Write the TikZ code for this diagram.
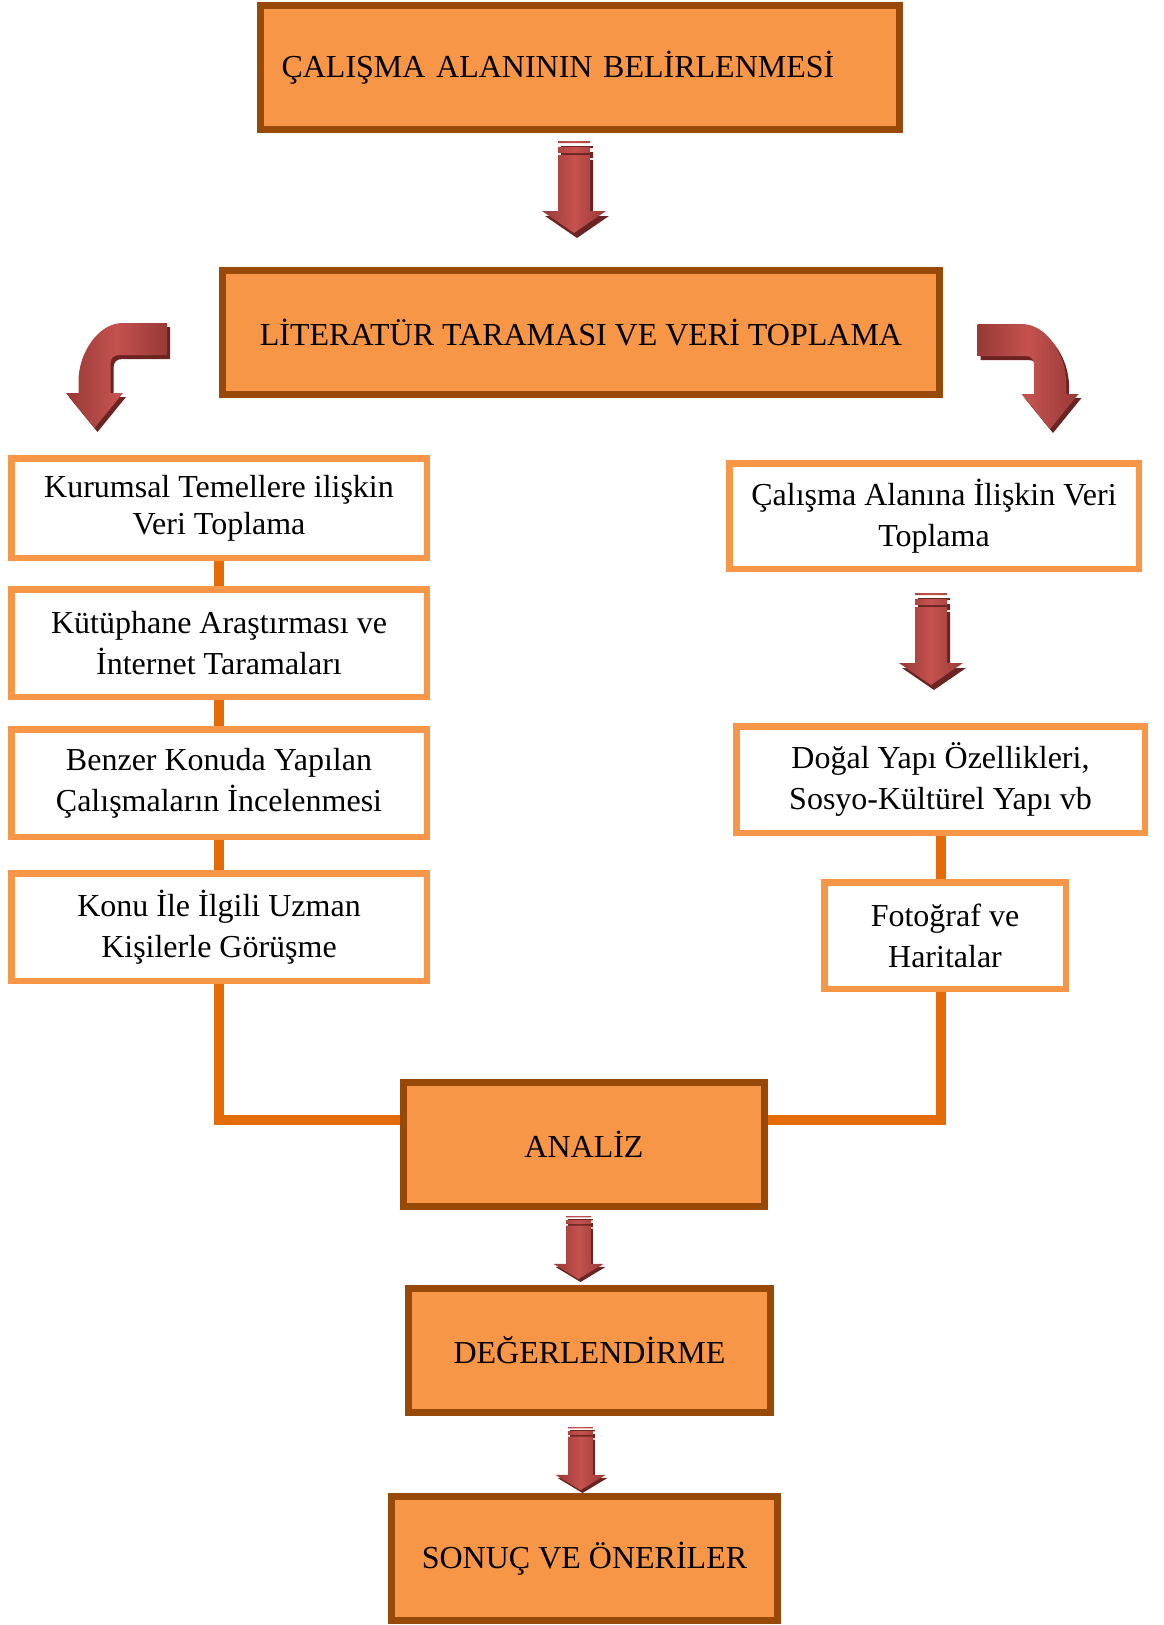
\documentclass[tikz,border=0pt]{standalone}
\usepackage{fontspec}
\setmainfont{Liberation Serif}
\begin{document}
\begin{tikzpicture}[
  mainbox/.style={draw=\flowMainBorder, fill=\flowMainFill, line width=\flowMainLineWidth, minimum height=124pt, inner sep=0pt, font=\flowFont},
  subbox/.style={draw=\flowSubBorder, fill=white, line width=\flowSubLineWidth, align=center, inner sep=0pt, font=\flowFont},
  link/.style={draw=\flowLinkColor, line width=\flowLinkWidth},
  arrowbody/.style={left color=\flowArrowDark, right color=\flowArrowDark, middle color=\flowArrowLight},
  arrowshadow/.style={fill=\flowArrowShadow}
]
% Flow chart colours and widths
\definecolor{flowmainfill}{HTML}{F79646}
\definecolor{flowmainborder}{HTML}{984807}
\definecolor{flowlink}{HTML}{E36C09}
\definecolor{flowarrowlight}{HTML}{C4524F}
\definecolor{flowarrowdark}{HTML}{983936}
\definecolor{flowarrowshadow}{HTML}{6B2422}
\providecommand{\flowMainFill}{flowmainfill}
\providecommand{\flowMainBorder}{flowmainborder}
\providecommand{\flowSubBorder}{flowmainfill}
\providecommand{\flowLinkColor}{flowlink}
\providecommand{\flowArrowLight}{flowarrowlight}
\providecommand{\flowArrowDark}{flowarrowdark}
\providecommand{\flowArrowShadow}{flowarrowshadow}
\providecommand{\flowMainLineWidth}{7pt}
\providecommand{\flowSubLineWidth}{6.5pt}
\providecommand{\flowLinkWidth}{10pt}
\providecommand{\flowFont}{\fontsize{32}{41}\selectfont}
% Straight arrow, top centre at the origin
\providecommand{\flowDownShape}[1]{\path[#1] (-16,0) rectangle (16,2) (-16,6) rectangle (16,12)
  (-16,14) -- (16,14) -- (16,70) -- (32,70) -- (0,92) -- (-32,70) -- (-16,70) -- cycle;}
% Bent arrow, shaft centre / band top at the origin
\providecommand{\flowBendShape}[1]{\path[#1] (72.5,0) -- (28,0) .. controls (4,0) and (-16,30) .. (-16,58)
  -- (-16,70) -- (-28.5,70) -- (0,105) -- (28.5,70) -- (16,70) -- (16,41)
  .. controls (16,35) and (19,32) .. (25,32) -- (72.5,32) -- cycle;}
\begin{scope}[x=1pt, y=-1pt, line cap=butt, line join=miter]
  \useasboundingbox (0,0) rectangle (1164,1625);
  % Main steps
  \node[mainbox, minimum width=639pt, text width=597pt, align=left] (alan) at (580,67.5) {ÇALIŞMA ALANININ BELİRLENMESİ};
  \node[mainbox, minimum width=717pt] (literatur) at (581,332.5) {LİTERATÜR TARAMASI VE VERİ TOPLAMA};
  \node[mainbox, minimum width=361pt] (analiz) at (584,1144.5) {ANALİZ};
  \node[mainbox, minimum width=362pt] (deger) at (589.5,1350.5) {DEĞERLENDİRME};
  \node[mainbox, minimum width=386pt] (sonuc) at (584.5,1558.5) {SONUÇ VE ÖNERİLER};
  % Left column
  \node[subbox, minimum width=415.5pt, minimum height=99.5pt, font=\fontsize{32}{37}\selectfont] (kurum) at (219,508) {Kurumsal Temellere ilişkin\\Veri Toplama};
  \node[subbox, minimum width=415.5pt, minimum height=107.5pt] (kutup) at (219,643) {Kütüphane Araştırması ve\\İnternet Taramaları};
  \node[subbox, minimum width=415.5pt, minimum height=107.5pt] (benzer) at (219,783) {Benzer Konuda Yapılan\\Çalışmaların İncelenmesi};
  \node[subbox, minimum width=415.5pt, minimum height=107.5pt] (uzman) at (219,927) {Konu İle İlgili Uzman\\Kişilerle Görüşme};
  % Right column
  \node[subbox, minimum width=409.5pt, minimum height=105.5pt] (alanveri) at (934,516) {Çalışma Alanına İlişkin Veri\\Toplama};
  \node[subbox, minimum width=408.5pt, minimum height=106.5pt] (dogal) at (940.5,779.5) {Doğal Yapı Özellikleri,\\Sosyo-Kültürel Yapı vb};
  \node[subbox, minimum width=241.5pt, minimum height=106.5pt] (foto) at (945,935.5) {Fotoğraf ve\\Haritalar};
  % Connectors
  \draw[link] (kurum.south) -- (kutup.north);
  \draw[link] (kutup.south) -- (benzer.north);
  \draw[link] (benzer.south) -- (uzman.north);
  \draw[link] (uzman.south) |- ([yshift=24.5pt]analiz.west);
  \draw[link] (dogal.south) -- (dogal.south |- foto.north);
  \draw[link] (foto.south -| dogal.south) |- ([yshift=24.5pt]analiz.east);
  % Down arrows
  \flowDownShape{arrowshadow, shift={(574,141)}, shift={(3,5)}}
  \flowDownShape{arrowbody, shift={(574,141)}}
  \flowDownShape{arrowshadow, shift={(931,593)}, shift={(3,5)}}
  \flowDownShape{arrowbody, shift={(931,593)}}
  \flowDownShape{arrowshadow, shift={(578.5,1216)}, shift={(2,3)}, xscale=0.78, yscale=0.685}
  \flowDownShape{arrowbody, shift={(578.5,1216)}, xscale=0.78, yscale=0.685}
  \flowDownShape{arrowshadow, shift={(580.5,1427)}, shift={(2,3)}, xscale=0.78, yscale=0.685}
  \flowDownShape{arrowbody, shift={(580.5,1427)}, xscale=0.78, yscale=0.685}
  % Bent arrows
  \flowBendShape{arrowshadow, shift={(94.5,323)}, shift={(3,4)}}
  \flowBendShape{arrowbody, shift={(94.5,323)}}
  \flowBendShape{arrowshadow, shift={(1050,324)}, shift={(3,4)}, xscale=-1}
  \flowBendShape{arrowbody, shift={(1050,324)}, xscale=-1}
\end{scope}
\end{tikzpicture}
\end{document}
